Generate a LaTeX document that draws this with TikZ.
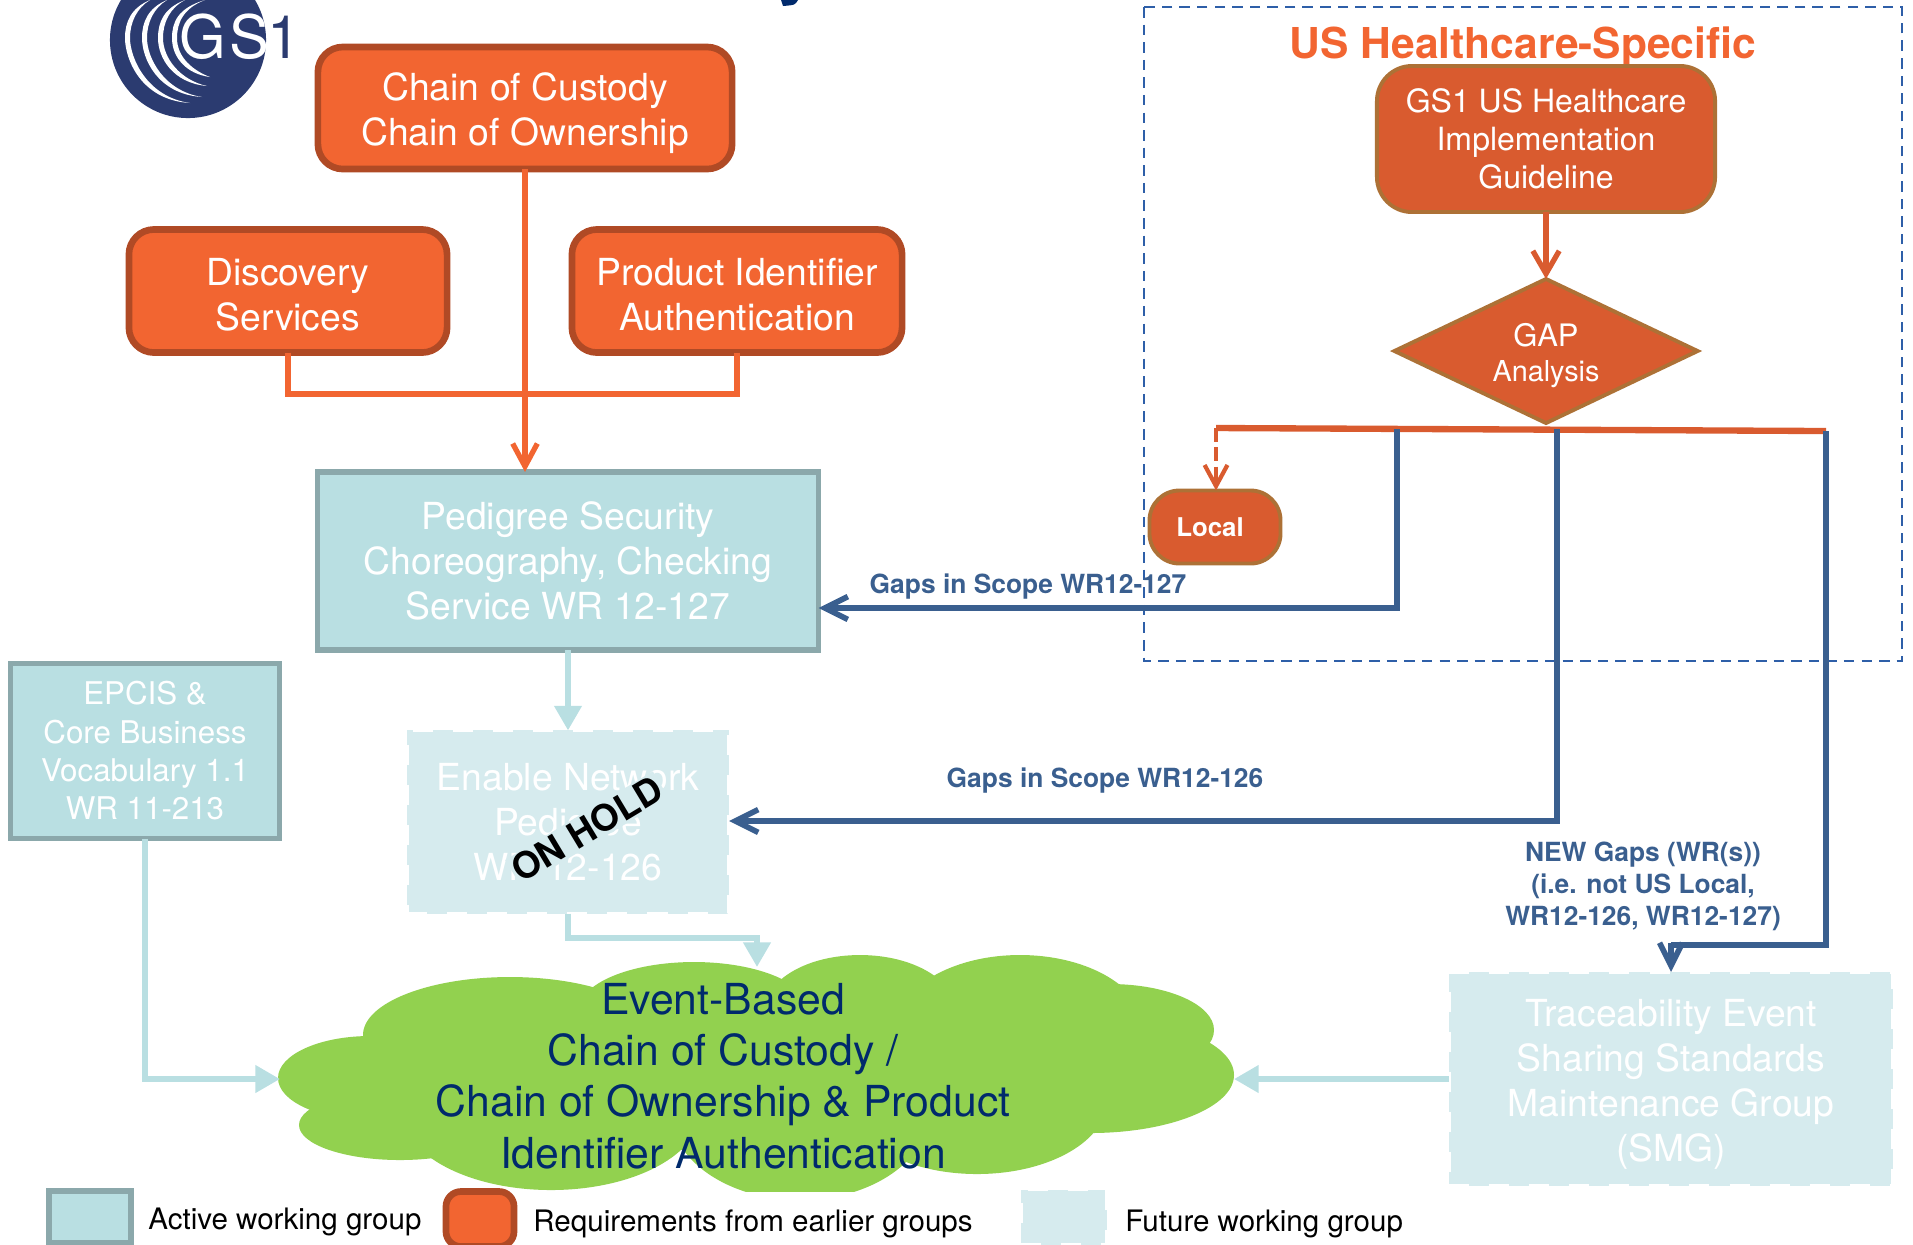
\documentclass[tikz,border=0pt]{standalone}
\usepackage{fontspec}
\setmainfont{TeX Gyre Heros}
\usepackage{tikz}
\usetikzlibrary{arrows.meta,shapes.geometric}

\definecolor{reqorange}{HTML}{F26531}
\definecolor{reqedge}{HTML}{B04A25}
\definecolor{usorange}{HTML}{D95B2F}
\definecolor{usedge}{HTML}{AD7136}
\definecolor{activeblue}{HTML}{B9DFE2}
\definecolor{activeedge}{HTML}{8BA8AB}
\definecolor{futureblue}{HTML}{D6EBEE}
\definecolor{gapblue}{HTML}{3A5F8F}
\definecolor{framedash}{HTML}{2E5FA8}
\definecolor{cloudgreen}{HTML}{92D14F}
\definecolor{cloudtext}{HTML}{002A6C}
\definecolor{logonavy}{HTML}{2B3B70}

\tikzset{
    bodyfont/.style={font=\fontsize{10.6}{12.8}\selectfont},
    reqbox/.style={draw=reqedge,fill=reqorange,line width=1.9pt,rounded corners=2.5mm,
        text=white,align=center,bodyfont,outer sep=0pt},
    usbox/.style={draw=usedge,fill=usorange,line width=1.1pt,text=white,align=center,outer sep=0pt},
    activebox/.style={draw=activeedge,fill=activeblue,line width=1.5pt,text=white,align=center,outer sep=0pt},
    futurebox/.style={draw=white,fill=futureblue,line width=1pt,dash pattern=on 5.7pt off 5.7pt,
        text=white,align=center,bodyfont,outer sep=0pt},
    gaplabel/.style={text=gapblue,align=center,font=\fontsize{7.5}{9.1}\selectfont\bfseries},
    legendlabel/.style={anchor=west,font=\fontsize{8.4}{10}\selectfont},
    reqline/.style={draw=reqorange,line width=1.5pt},
    reqarrow/.style={reqline,-{Straight Barb[length=6.5pt,width=7pt]}},
    usline/.style={draw=usorange,line width=1.8pt},
    gapline/.style={draw=gapblue,line width=1.6pt},
    gaparrow/.style={gapline,-{Straight Barb[length=6.5pt,width=6.5pt]}},
    flowarrow/.style={draw=activeblue,line width=1.7pt,-{Triangle[length=7pt,width=7.5pt]}},
}

\begin{document}
\begin{tikzpicture}[x=0.01cm,y=-0.01cm]
    \useasboundingbox (0,0) rectangle (1913,1244);

    % logo
    \begin{scope}
        \clip (0,0) rectangle (290,130);
        \fill[logonavy] (188,40) circle[radius=0.78cm];
        \foreach \lx/\tx/\ex/\ey in {172/205/210/77,158/185/207/86,142/167/202/97,125/150/190/103}
            \fill[white] (\tx,0) .. controls (\lx+6,8) and (\lx,22) .. (\lx,38)
                .. controls (\lx,58) and (\lx+15,\ey-3) .. (\ex,\ey)
                .. controls (\lx+22,\ey-6) and (\lx+5,58) .. (\lx+5,38)
                .. controls (\lx+5,22) and (\lx+12,8) .. cycle;
        \node[text=white,font=\fontsize{17}{17}\selectfont] (logogs) at (224,37) {G\kern1pt S};
        \node[text=logonavy,font=\fontsize{17}{17}\selectfont] (logoone) at (284,37) {1};
    \end{scope}
    \fill[cloudtext] (781,0) -- (798,0) .. controls (795,5) .. (783,6) -- cycle;

    % cloud
    \begin{scope}
        \clip (200,900) rectangle (1300,1191);
        \fill[cloudgreen] (370,1078) ellipse[x radius=92,y radius=42];
        \fill[cloudgreen] (510,1035) ellipse[x radius=147,y radius=58];
        \fill[cloudgreen] (694,1010) ellipse[x radius=115,y radius=48];
        \fill[cloudgreen] (860,1010) ellipse[x radius=95,y radius=55];
        \fill[cloudgreen] (1020,1030) ellipse[x radius=125,y radius=75];
        \fill[cloudgreen] (1110,1030) ellipse[x radius=104,y radius=46];
        \fill[cloudgreen] (1090,1075) ellipse[x radius=144,y radius=58];
        \fill[cloudgreen] (977,1100) ellipse[x radius=130,y radius=74];
        \fill[cloudgreen] (800,1110) ellipse[x radius=130,y radius=90];
        \fill[cloudgreen] (551,1110) ellipse[x radius=150,y radius=80];
        \fill[cloudgreen] (400,1125) ellipse[x radius=101,y radius=35];
        \fill[cloudgreen] (420,1030) rectangle (1050,1150);
    \end{scope}
    \node[text=cloudtext,align=center,font=\fontsize{12.15}{14.6}\selectfont] (cloudlabel) at (723,1076)
        {Event-Based\\Chain of Custody /\\Chain of Ownership \& Product\\Identifier Authentication};

    % us frame
    \draw[framedash,line width=0.6pt,dash pattern=on 3pt off 2pt] (1144,7) rectangle (1902,661);
    \node[text=reqorange,font=\fontsize{12.1}{14}\selectfont\bfseries] (ustitle) at (1523,47) {US Healthcare-Specific};

    % requirements
    \node[reqbox,minimum width=4.14cm,minimum height=1.22cm] (chain) at (525,108)
        {\rule{0pt}{10.7pt}Chain of Custody\\Chain of Ownership};
    \node[reqbox,minimum width=3.18cm,minimum height=1.23cm] (discovery) at (288,291)
        {\rule{0pt}{10pt}Discovery\\Services};
    \node[reqbox,minimum width=3.3cm,minimum height=1.23cm] (product) at (737,291)
        {\rule{0pt}{10pt}Product Identifier\\Authentication};

    % working groups
    \node[activebox,bodyfont,minimum width=5.01cm,minimum height=1.78cm] (pedigree) at (568,561)
        {Pedigree Security\\Choreography, Checking\\Service WR 12-127};
    \node[activebox,font=\fontsize{8.9}{10.9}\selectfont,minimum width=2.69cm,minimum height=1.75cm] (epcis) at (145,751)
        {EPCIS \&\\Core Business\\Vocabulary 1.1\\WR 11-213};
    \node[futurebox,minimum width=3.22cm,minimum height=1.83cm] (network) at (568,822)
        {Enable Network\\Pedigree\\WR 12-126};
    \node[fill=futureblue,rotate=31,inner sep=0.5pt,font=\fontsize{10.4}{12}\selectfont\bfseries] (onhold) at (587,829) {ON HOLD};
    \node[futurebox,minimum width=4.44cm,minimum height=2.14cm] (smg) at (1671,1079)
        {\rule{0pt}{10.7pt}Traceability Event\\Sharing Standards\\Maintenance Group\\(SMG)};

    % us boxes
    \node[usbox,rounded corners=3.5mm,font=\fontsize{9.1}{10.8}\selectfont,minimum width=3.38cm,minimum height=1.46cm] (guideline) at (1546,139)
        {GS1 US Healthcare\\Implementation\\Guideline};
    \node[usbox,diamond,aspect=2.1,minimum width=3.03cm,minimum height=1.44cm,inner sep=0pt] (gap) at (1546,351) {};
    \node[text=white,font=\fontsize{8.8}{10}\selectfont] (gaptext) at (1546,335) {GAP};
    \node[text=white,font=\fontsize{8.2}{10}\selectfont] (analysis) at (1546,374) {Analysis};
    \node[usbox,rounded corners=3mm,minimum width=1.31cm,minimum height=0.73cm,inner sep=0pt] (local) at (1215,527) {};
    \node[text=white,font=\fontsize{7.35}{9}\selectfont\bfseries] (locallabel) at (1210,527) {Local};

    % connectors
    \coordinate (merge) at (chain.south |- 0,394);
    \draw[reqline] (discovery.south) |- (merge);
    \draw[reqline] (product.south) |- (merge);
    \draw[reqarrow] (chain.south) -- (chain.south |- pedigree.north);
    \draw[draw=usorange,line width=1.5pt,-{Straight Barb[length=6.5pt,width=7.5pt]}] (guideline.south) -- (gap.north);

    \coordinate (splitleft) at (1216,428);
    \coordinate (splitright) at (1826,431);
    \coordinate (splitscope) at (1397,429);
    \coordinate (splitnet) at (1557,429);
    \draw[usline] (splitleft) -- (splitright);
    \draw[draw=usorange,line width=1.2pt,dash pattern=on 4pt off 1.5pt,-{Straight Barb[length=6pt,width=6.5pt]}] (splitleft) -- (splitleft |- local.north);

    \draw[gaparrow] (splitscope) |- (pedigree.east |- 0,608);
    \draw[gaparrow] (splitnet) |- (network.east |- 0,821);
    \draw[gapline] (splitright) -- (1826,945) -- (smg.north |- 0,945);
    \draw[gaparrow] (smg.north |- 0,943) -- (smg.north);

    \draw[flowarrow] (pedigree.south) -- (network.north);
    \draw[flowarrow] (network.south) |- (757,938) -- (757,967);
    \draw[flowarrow] (epcis.south) |- (280,1079);
    \draw[flowarrow] (smg.west) -- (1234,1079);

    \node[gaplabel] (scopea) at (1028,587) {Gaps in Scope WR12-127};
    \node[gaplabel] (scopeb) at (1105,781) {Gaps in Scope WR12-126};
    \node[gaplabel] (newgaps) at (1643,886) {NEW Gaps (WR(s))\\(i.e. not US Local,\\WR12-126, WR12-127)};

    % legend
    \node[activebox,minimum width=0.82cm,minimum height=0.52cm] (keyactive) at (90,1217) {};
    \node[legendlabel] (keyactivetext) at (136,1222) {Active working group};
    \node[reqbox,rounded corners=1.5mm,minimum width=0.68cm,minimum height=0.55cm] (keyreq) at (480,1219) {};
    \node[legendlabel] (keyreqtext) at (521,1224) {Requirements from earlier groups};
    \node[futurebox,minimum width=0.86cm,minimum height=0.55cm] (keyfuture) at (1064,1217) {};
    \node[legendlabel] (keyfuturetext) at (1113,1224) {Future working group};
\end{tikzpicture}
\end{document}
